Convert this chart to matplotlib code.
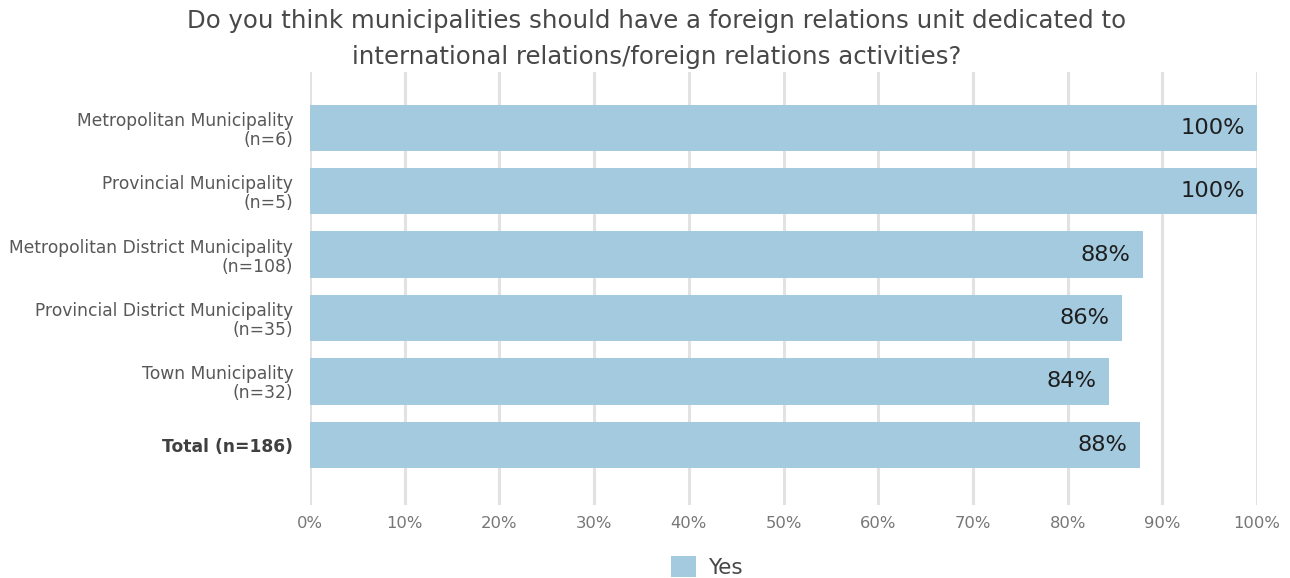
import matplotlib
matplotlib.use("Agg")
import matplotlib.pyplot as plt
from matplotlib.patches import Patch

plt.rcParams['font.family'] = ['DejaVu Sans']

categories = [
    "Metropolitan Municipality\n(n=6)",
    "Provincial Municipality\n(n=5)",
    "Metropolitan District Municipality\n(n=108)",
    "Provincial District Municipality\n(n=35)",
    "Town Municipality\n(n=32)",
    "Total (n=186)",
]
yes_share = [100.0, 100.0, 87.96, 85.71, 84.38, 87.63]
x_ticks = [0, 10, 20, 30, 40, 50, 60, 70, 80, 90, 100]
x_tick_labels = [f"{t}%" for t in x_ticks]

title = ("Do you think municipalities should have a foreign relations unit dedicated to\n"
         "international relations/foreign relations activities?")

bar_color = "#a3cadf"
grid_color = "#e2e2e2"

fig = plt.figure(figsize=(12.9, 5.78), dpi=100)
ax = fig.add_axes([310 / 1290, 1 - 505 / 578, (1257 - 310) / 1290, (505 - 72) / 578])

ypos = list(range(len(categories)))
ax.barh(ypos, yes_share, height=0.73, color=bar_color, zorder=2)

for y, v in zip(ypos, yes_share):
    ax.text(v - 1.3, y, f"{round(v)}%", ha="right", va="center",
            fontsize=16.2, color="#1e1e1e", zorder=3)

ax.set_xlim(0, 100)
ax.set_ylim(len(categories) - 1 + 0.95, -0.88)
ax.set_xticks(x_ticks)
ax.set_xticklabels(x_tick_labels, fontsize=11.8, color="#767676")
ax.set_yticks(ypos)
ax.set_yticklabels(categories, fontsize=12.3, color="#585858", linespacing=1.08)
ax.get_yticklabels()[-1].set_fontweight("bold")
ax.get_yticklabels()[-1].set_color("#404040")

ax.tick_params(axis="both", length=0)
ax.tick_params(axis="x", pad=8)
ax.tick_params(axis="y", pad=12)
for s in ax.spines.values():
    s.set_visible(False)
ax.grid(axis="x", color=grid_color, linewidth=2.2, zorder=0)
ax.set_axisbelow(True)

fig.text(657 / 1290, 1 - 39 / 578, title, ha="center", va="center",
         fontsize=17.6, color="#484848", linespacing=1.68)

fig.legend(handles=[Patch(facecolor=bar_color, label="Yes")],
           loc="center", bbox_to_anchor=(0.548, 1 - 567 / 578), frameon=False,
           fontsize=15.5, handlelength=1.15, handleheight=1.15, handletextpad=0.55,
           labelcolor="#484848")

fig.savefig("out.png", dpi=100)
